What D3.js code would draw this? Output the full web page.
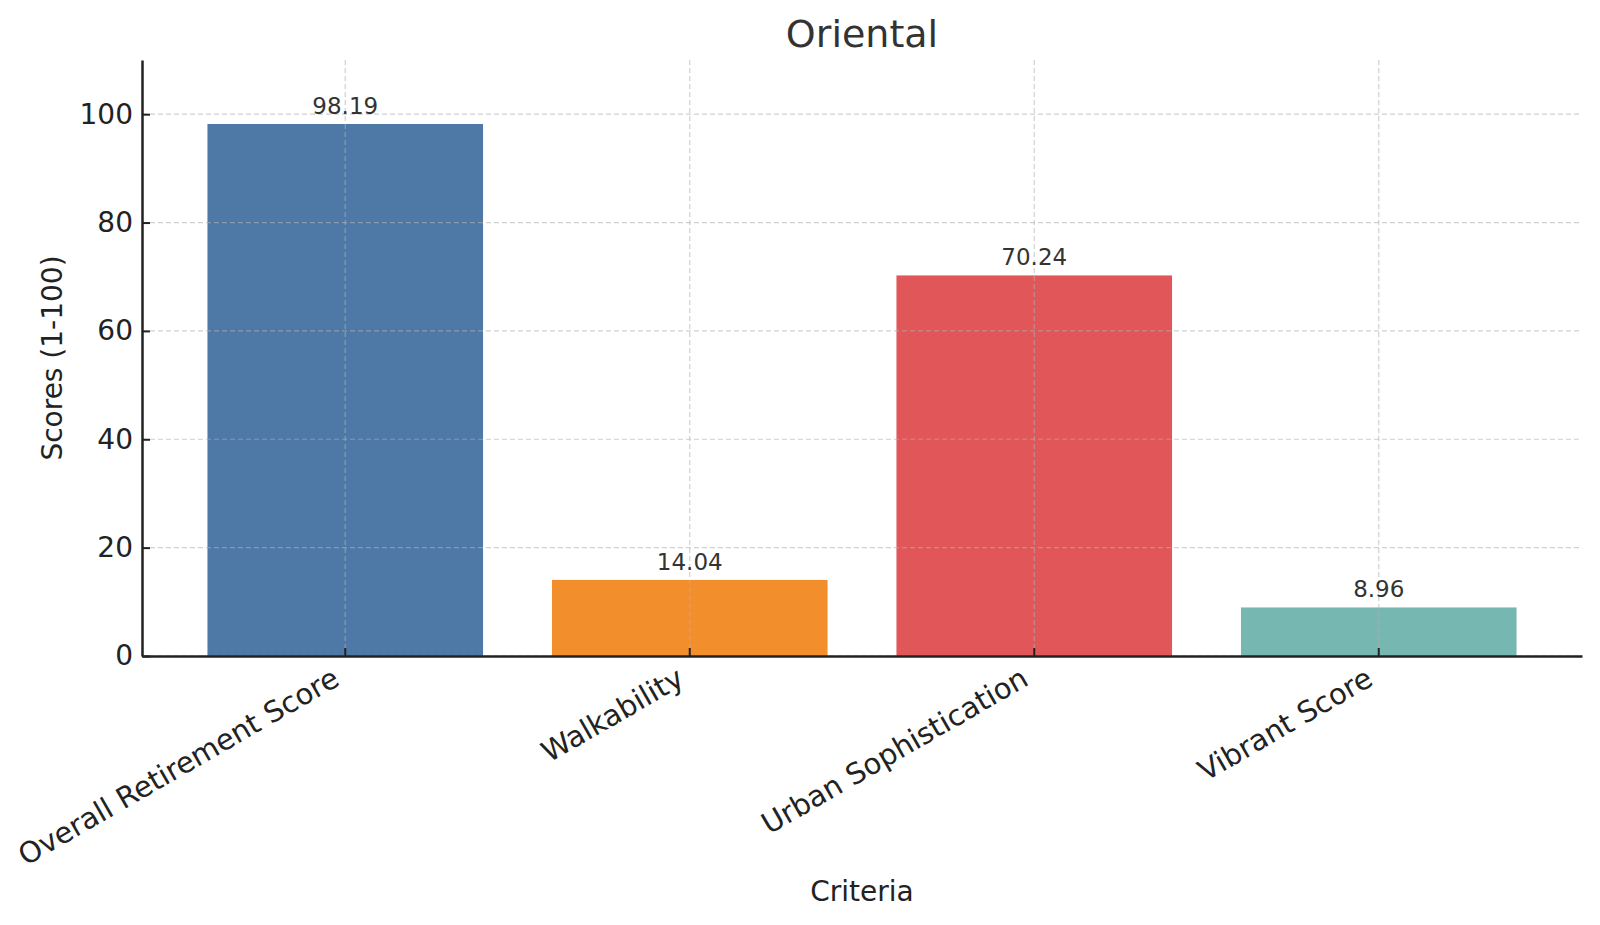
<!DOCTYPE html>
<html>
<head>
<meta charset="utf-8">
<script src="https://cdn.jsdelivr.net/npm/d3@7"></script>
<style>
  body { margin: 0; background: #fff; }
  text { font-family: "DejaVu Sans", sans-serif; }
</style>
</head>
<body>
<div id="chart"></div>
<script>
// chart data
var categories = ["Overall Retirement Score", "Walkability", "Urban Sophistication", "Vibrant Score"];
var scores = [98.19, 14.04, 70.24, 8.96];
var barColors = ["#4e79a7", "#f28e2b", "#e15759", "#76b7b2"];
var yTicks = [0, 20, 40, 60, 80, 100];

var svgWidth = 1600;
var svgHeight = 925;

var margin = {
  top: 60,
  right: 18,
  bottom: 269,
  left: 142
};

var width = svgWidth - margin.left - margin.right;
var height = svgHeight - margin.top - margin.bottom;

var svg = d3.select("#chart")
  .append("svg")
  .attr("width", svgWidth)
  .attr("height", svgHeight);

var chartGroup = svg.append("g")
  .attr("transform", `translate(${margin.left}, ${margin.top})`);

var xScale = d3.scaleBand()
  .domain(categories)
  .range([0, width])
  .paddingInner(0.2)
  .paddingOuter(0.19);

var yScale = d3.scaleLinear()
  .domain([0, 110])
  .range([height, 0]);

// bars
chartGroup.selectAll("rect.bar")
  .data(categories)
  .enter()
  .append("rect")
  .attr("class", "bar")
  .attr("x", d => xScale(d))
  .attr("y", (d, i) => yScale(scores[i]))
  .attr("width", xScale.bandwidth())
  .attr("height", (d, i) => height - yScale(scores[i]))
  .attr("fill", (d, i) => barColors[i]);

// grid sits on top of the bars, like the original
var grid = chartGroup.append("g")
  .attr("stroke", "#b0b0b0")
  .attr("stroke-opacity", 0.6)
  .attr("stroke-width", 1.2)
  .attr("stroke-dasharray", "5,3");

grid.selectAll("line.hgrid")
  .data(yTicks)
  .enter()
  .append("line")
  .attr("x1", 0)
  .attr("x2", width)
  .attr("y1", d => yScale(d))
  .attr("y2", d => yScale(d));

grid.selectAll("line.vgrid")
  .data(categories)
  .enter()
  .append("line")
  .attr("x1", d => xScale(d) + xScale.bandwidth() / 2)
  .attr("x2", d => xScale(d) + xScale.bandwidth() / 2)
  .attr("y1", 0)
  .attr("y2", height);

// value labels
chartGroup.selectAll("text.value")
  .data(categories)
  .enter()
  .append("text")
  .attr("class", "value")
  .attr("x", d => xScale(d) + xScale.bandwidth() / 2)
  .attr("y", (d, i) => yScale(scores[i]) - 10)
  .attr("text-anchor", "middle")
  .attr("font-size", "23px")
  .attr("fill", "#333")
  .text((d, i) => scores[i].toFixed(2));

// axes with inward ticks
var yAxis = d3.axisLeft(yScale)
  .tickValues(yTicks)
  .tickSizeInner(-8)
  .tickSizeOuter(0)
  .tickPadding(9);

var xAxis = d3.axisBottom(xScale)
  .tickSizeInner(-8)
  .tickSizeOuter(0);

var yG = chartGroup.append("g").call(yAxis);
var xG = chartGroup.append("g")
  .attr("transform", `translate(0, ${height})`)
  .call(xAxis);

[yG, xG].forEach(function(g) {
  g.select(".domain").attr("stroke", "#222").attr("stroke-width", 2.5);
  g.selectAll(".tick line").attr("stroke", "#222").attr("stroke-width", 2);
  g.selectAll(".tick text")
    .attr("font-family", "DejaVu Sans, sans-serif")
    .attr("font-size", "28px")
    .attr("fill", "#222");
});

xG.selectAll(".tick text")
  .attr("x", 0)
  .attr("y", 0)
  .attr("dy", 0)
  .attr("font-size", "29px")
  .attr("text-anchor", "end")
  .attr("transform", "translate(-4, 28) rotate(-30)");

// title and axis labels
svg.append("text")
  .attr("x", margin.left + width / 2)
  .attr("y", 47)
  .attr("text-anchor", "middle")
  .attr("font-size", "38px")
  .attr("fill", "#333")
  .text("Oriental");

svg.append("text")
  .attr("x", margin.left + width / 2)
  .attr("y", 901)
  .attr("text-anchor", "middle")
  .attr("font-size", "28px")
  .attr("fill", "#222")
  .text("Criteria");

svg.append("text")
  .attr("transform", `translate(62, ${margin.top + height / 2}) rotate(-90)`)
  .attr("text-anchor", "middle")
  .attr("font-size", "28px")
  .attr("fill", "#222")
  .text("Scores (1-100)");
</script>
</body>
</html>
